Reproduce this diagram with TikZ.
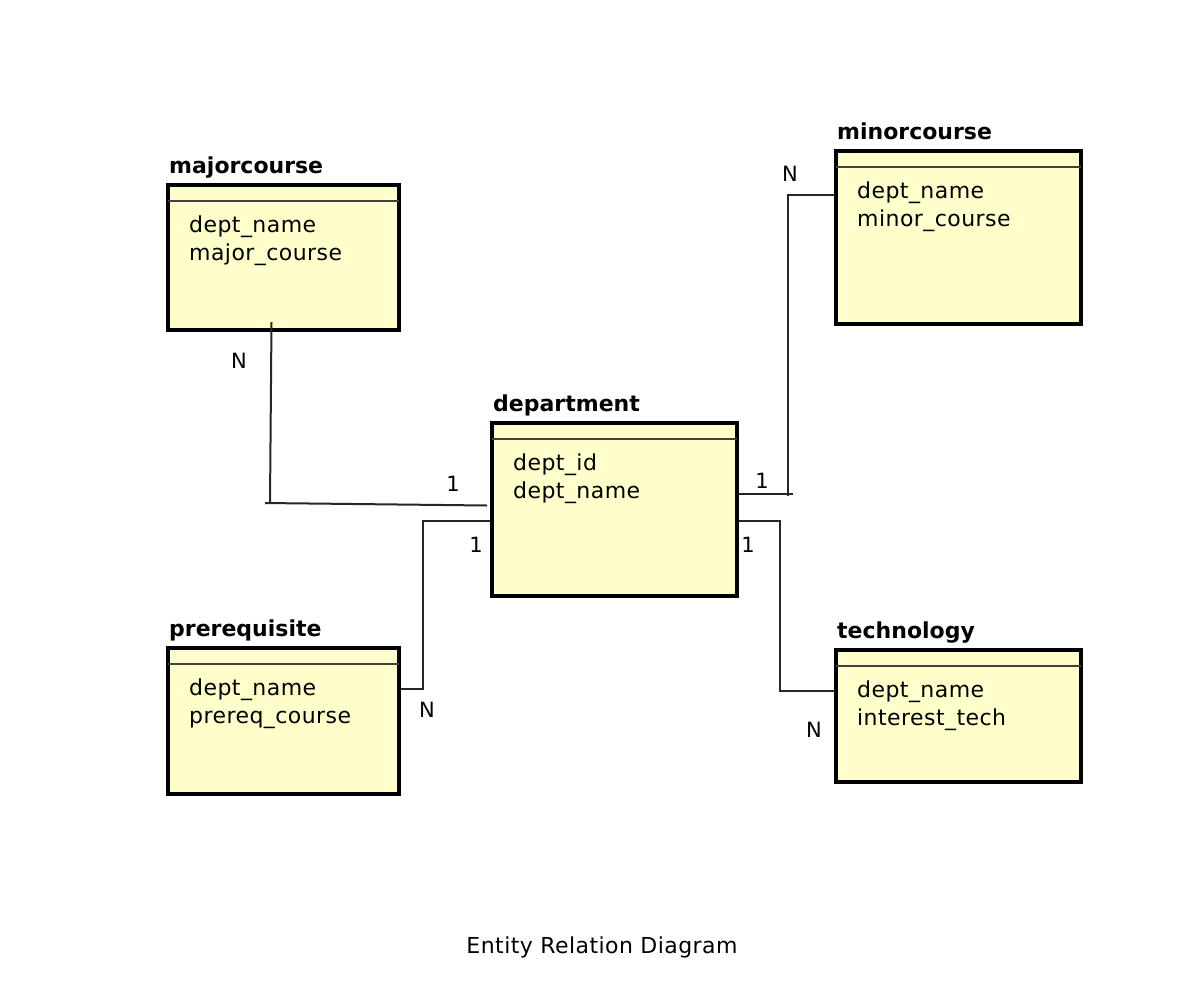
\documentclass[tikz,border=0pt]{standalone}
\usepackage{fontspec}
\setmainfont{DejaVu Sans}
\newfontfamily\attrfont[LetterSpace=2]{DejaVu Sans}
\usepackage{tikz}
\usetikzlibrary{positioning}
\definecolor{entityfill}{HTML}{FFFFCC}
\tikzset{
	entity/.style={rectangle,draw=black,line width=4pt,fill=entityfill,inner sep=0pt},
	enttitle/.style={font=\bfseries\fontsize{22}{26}\selectfont,inner sep=0pt},
	attr/.style={font=\attrfont\fontsize{22}{28}\selectfont,align=left,inner sep=0pt},
	card/.style={font=\fontsize{21}{24}\selectfont,inner sep=0pt},
	conn/.style={line width=2pt,black!85},
	divider/.style={line width=1.6pt,black!75,shorten >=2pt,shorten <=2pt}
}

\begin{document}
\begin{tikzpicture}[x=1pt,y=-1pt]
	\fill[white] (0,0) rectangle (1198,980);
	\useasboundingbox (0,0) rectangle (1198,980);
	\node[entity,minimum width=231pt,minimum height=145pt] (major) at (283.5,257.5) {};
	\node[entity,minimum width=245pt,minimum height=173pt] (dept) at (614.5,509.5) {};
	\node[entity,minimum width=245pt,minimum height=173pt] (minor) at (958.5,237.5) {};
	\node[entity,minimum width=231pt,minimum height=146pt] (prereq) at (283.5,721) {};
	\node[entity,minimum width=245pt,minimum height=132pt] (tech) at (958.5,716) {};
	\foreach \b in {major,dept,minor,prereq,tech}
		\draw[divider] ([yshift=-18pt]\b.north west) -- ([yshift=-18pt]\b.north east);
	\node[enttitle,above right=10pt and 3pt of major.north west,anchor=base west] (majorT) {majorcourse};
	\node[enttitle,above right=10pt and 3pt of dept.north west,anchor=base west] (deptT) {department};
	\node[enttitle,above right=10pt and 3pt of minor.north west,anchor=base west] (minorT) {minorcourse};
	\node[enttitle,above right=10pt and 3pt of prereq.north west,anchor=base west] (prereqT) {prerequisite};
	\node[enttitle,above right=10pt and 3pt of tech.north west,anchor=base west] (techT) {technology};
	\node[attr,below right=32.5pt and 23pt of major.north west] (majorA) {dept\_name\\major\_course};
	\node[attr,below right=32.5pt and 23pt of dept.north west] (deptA) {dept\_id\\dept\_name};
	\node[attr,below right=32.5pt and 23pt of minor.north west] (minorA) {dept\_name\\minor\_course};
	\node[attr,below right=32.5pt and 23pt of prereq.north west] (prereqA) {dept\_name\\prereq\_course};
	\node[attr,below right=32.5pt and 23pt of tech.north west] (techA) {dept\_name\\interest\_tech};
	\coordinate (mjbend) at (270,503);
	\coordinate (prbend) at (422.5,689);
	\coordinate (mnbend) at (788,493.5);
	\coordinate (tkbend) at (780,691);
	\draw[conn] ([xshift=-12pt,yshift=10pt]major.south) -- (mjbend);
	\draw[conn] ([xshift=-5pt]mjbend) -- ([xshift=-3pt,yshift=4pt]dept.west);
	\draw[conn] ([yshift=32pt]prereq.east) -- (prbend) |- ([yshift=-11.5pt]dept.west);
	\draw[conn] ([yshift=16pt]dept.east) -- ([xshift=5pt]mnbend);
	\draw[conn] ([yshift=-2pt]mnbend) |- ([yshift=43pt]minor.west);
	\draw[conn] ([yshift=-11.5pt]dept.east) -| (tkbend) -- ([yshift=25pt]tech.west);
	\node[card] (nmj) at (239,361) {N};
	\node[card] (omj) at (453,484) {1};
	\node[card] (opr) at (476,545) {1};
	\node[card] (npr) at (427,710) {N};
	\node[card] (omn) at (762,481) {1};
	\node[card] (nmn) at (790,174) {N};
	\node[card] (otk) at (748,545) {1};
	\node[card] (ntk) at (814,730) {N};
	\node[font=\attrfont\fontsize{22}{26}\selectfont,inner sep=0pt,anchor=base] (caption) at (602,953) {Entity Relation Diagram};
\end{tikzpicture}
\end{document}
